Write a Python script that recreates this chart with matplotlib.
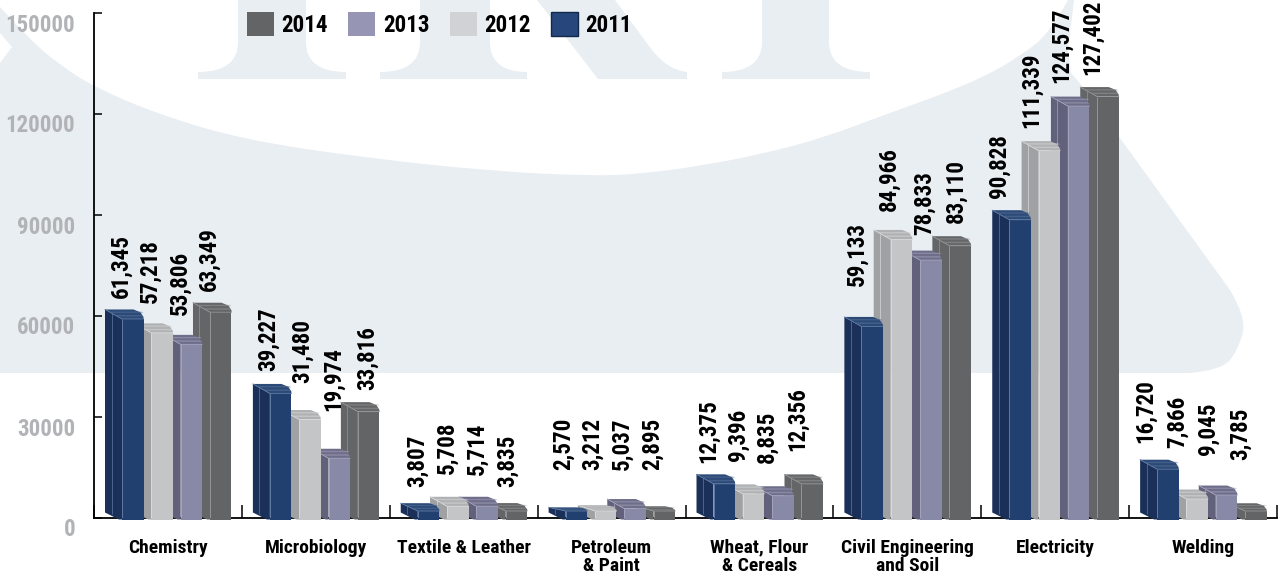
import matplotlib
matplotlib.use("Agg")
import matplotlib.pyplot as plt
from matplotlib.patches import Polygon, PathPatch, Patch
from matplotlib.path import Path
from matplotlib.transforms import ScaledTranslation

categories = ["Chemistry", "Microbiology", "Textile & Leather", "Petroleum\n& Paint",
              "Wheat, Flour\n& Cereals", "Civil Engineering\nand Soil", "Electricity", "Welding"]
years = ["2011", "2012", "2013", "2014"]
v2011 = [61345, 39227, 3807, 2570, 12375, 59133, 90828, 16720]
v2012 = [57218, 31480, 5708, 3212, 9396, 84966, 111339, 7866]
v2013 = [53806, 19974, 5714, 5037, 8835, 78833, 124577, 9045]
v2014 = [63349, 33816, 3835, 2895, 12356, 83110, 127402, 3785]
series = [v2011, v2012, v2013, v2014]
y_ticks = [0, 30000, 60000, 90000, 120000, 150000]

# label placement (pixels in the figure)
label_x = [[121, 150, 180, 209], [268, 302, 333, 367], [417, 447, 477, 507], [563, 592, 622, 652],
           [708, 738, 767, 797], [857, 889, 924, 956], [999, 1031, 1061, 1092], [1145, 1177, 1208, 1240]]
label_bottom = [[298, 303, 315, 291], [371, 383, 411, 390], [487, 474, 475, 487], [470, 470, 470, 470],
                [463, 461, 463, 451], [286, 211, 235, 223], [198, 128, 83, 75], [443, 448, 455, 460]]

# colours: front, side, top, stripe, edge highlight
styles = [("#22406F", "#1B3059", "#2C4A78", "#5A7499", "#5F7AA3"),
          ("#C4C5C7", "#A0A1A3", "#B0B1B3", "#D8D9DB", "#D8D9DB"),
          ("#8888A7", "#62617B", "#6E6E8A", "#A3A3BC", "#A3A3BC"),
          ("#636466", "#646567", "#656668", "#97989A", "#939496")]
legend_colors = ["#636466", "#9696B4", "#D1D2D4", "#27477C"]
WM = "#E9EEF3"
COND = "Roboto Condensed"

W, H = 1278, 576
fig = plt.figure(figsize=(W / 100, H / 100), dpi=100, facecolor="white")

def fp(x, y):
    return (x / W, 1 - y / H)

def wm_path(cmds):
    verts, codes = [], []
    for c, x, y in cmds:
        verts.append(fp(x, y)); codes.append(c)
    return Path(verts, codes)

M, L, Q, C = Path.MOVETO, Path.LINETO, Path.CURVE3, Path.CLOSEPOLY

def smooth(points):
    """Quadratic curve through the midpoints of a control polygon, ending on its last point."""
    out = []
    for k in range(1, len(points) - 1):
        mx = (points[k][0] + points[k + 1][0]) / 2
        my = (points[k][1] + points[k + 1][1]) / 2
        if k == len(points) - 2:
            mx, my = points[k + 1]
        out += [(Q, points[k][0], points[k][1]), (Q, mx, my)]
    return out

arc = [(0, 7), (30, 40), (60, 65), (94, 87), (160, 115), (245, 140), (367, 158), (490, 171), (590, 176),
       (640, 174), (700, 166), (762, 154), (823, 138), (884, 115), (940, 95), (986, 76), (1020, 56),
       (1050, 33), (1068, 0)]
corner = [(1230, 290), (1247, 318), (1238, 350), (1222, 370), (1190, 373)]
band = [(M, 0, 7)] + smooth(arc) + [(L, 1074, 0), (L, 1068, 50), (L, 1071, 73), (L, 1083, 87), (L, 1230, 290)]
band += smooth(corner) + [(L, 0, 373), (L, 0, 63), (L, 12, 47), (L, 0, 33), (C, 0, 7)]
fig.add_artist(PathPatch(wm_path(band), fc=WM, ec="none", zorder=-5, transform=fig.transFigure))
for a, b, s0, s1 in [(238, 306, 198, 346), (420, 490, 380, 527), (762, 829, 722, 870)]:
    p = wm_path([(M, a, 0), (L, a, 42), (Q, a, 72), (Q, s0, 72), (L, s0, 79), (L, s1, 79), (L, s1, 72),
                 (Q, b, 72), (Q, b, 42), (L, b, 0), (C, a, 0)])
    fig.add_artist(PathPatch(p, fc=WM, ec="none", zorder=-5, transform=fig.transFigure))
p = wm_path([(M, 537, 0), (L, 598, 79), (L, 687, 79), (L, 687, 72), (Q, 668, 70), (Q, 652, 50),
             (L, 615, 0), (C, 537, 0)])
fig.add_artist(PathPatch(p, fc=WM, ec="none", zorder=-5, transform=fig.transFigure))

ax = fig.add_axes([94 / W, (H - 518) / H, (1277 - 94) / W, 505 / H])
ax.patch.set_alpha(0)
ax.set_xlim(0, 8)
ax.set_ylim(0, 150000)
PX = 8 / 1183
PY = 150000 / 505
for s in ("top", "right"):
    ax.spines[s].set_visible(False)
for s in ("left", "bottom"):
    ax.spines[s].set_linewidth(1.3)
    ax.spines[s].set_color("black")

FRONT0, STEP, WIDTH, DX = 28, 29.33, 21.5, 17
BASE = -1.5 * PY
for j in reversed(range(4)):
    front, side, top, stripe, edge = styles[j]
    z = 10 - j
    for i, v in enumerate(series[j]):
        fl = i + (FRONT0 + j * STEP) * PX
        fr = fl + WIDTH * PX
        back = v + 2 * PY
        ftop = min(max(v - 7.5 * PY, 7 * PY), back - 3 * PY)
        d = back - ftop
        bl = fl - DX * PX
        ax.add_patch(Polygon([(bl, back), (fl, ftop), (fl, BASE), (fl - 3 * PX, BASE), (bl, 5.5 * PY)],
                             closed=True, fc=side, ec="none", zorder=z, clip_on=False))
        ax.add_patch(Polygon([(bl, back), (fr - 10 * PX, back), (fr - 3 * PX, back - d * 0.3),
                              (fr, back - d * 0.8), (fr, ftop), (fl, ftop)],
                             closed=True, fc=top, ec="none", zorder=z, clip_on=False))
        for a0, a1 in [(0.22, 0.36), (0.58, 0.74)]:
            ax.add_patch(Polygon([(bl + (17 * a0 + 1) * PX, back - d * a0), (fr - 2 * PX, back - d * a0),
                                  (fr, back - d * a1), (bl + (17 * a1 + 1) * PX, back - d * a1)],
                                 closed=True, fc=stripe, ec="none", alpha=0.5, zorder=z, clip_on=False))
        ax.bar(fl, ftop - BASE, bottom=BASE, width=fr - fl, align="edge", color=front, zorder=z, clip_on=False)
        ax.plot([bl + 6.5 * PX, bl + 6.5 * PX], [back - d * 0.38, 4 * PY], color=edge, lw=0.5, zorder=z, solid_capstyle="butt")
        ax.plot([fl, fl], [ftop, BASE], color=edge, lw=0.7, zorder=z, solid_capstyle="butt")
        ax.plot([bl, fl, fr], [back, ftop, ftop], color=edge, lw=0.6, zorder=z)

for j in range(4):
    for i, v in enumerate(series[j]):
        ax.text((label_x[i][j] - 94) * PX, (518 - label_bottom[i][j]) * PY, f"{v:,}", rotation=90, ha="center",
                va="bottom", family=COND, weight="bold", fontsize=16.6, color="black", zorder=20, clip_on=False)

ax.set_yticks(y_ticks)
ax.set_yticklabels([str(t) for t in y_ticks], family=COND, weight="bold", fontsize=16.5, color="#B1B3B6")
ax.tick_params(axis="y", direction="in", length=6, width=1.1, pad=13.5, color="black")
off = ScaledTranslation(0, -9.5 / 100, fig.dpi_scale_trans)
for lab in ax.get_yticklabels():
    lab.set_transform(lab.get_transform() + off)

ax.set_xticks(range(0, 9))
ax.set_xticklabels([])
ax.set_xticks([i + 0.5 for i in range(8)], minor=True)
ax.set_xticklabels(categories, minor=True, family=COND, weight="bold", fontsize=14, color="black", linespacing=1.03)
ax.tick_params(axis="x", which="major", direction="in", length=9.4, width=1.1, color="black")
ax.tick_params(axis="x", which="minor", length=0, pad=15)

handles = [Patch(fc=legend_colors[0], ec="none"), Patch(fc=legend_colors[1], ec="none"),
           Patch(fc=legend_colors[2], ec="none"), Patch(fc=legend_colors[3], ec="#12284A", lw=1)]
fig.legend(handles, years[::-1], ncol=4, loc="upper left", bbox_to_anchor=(247 / W, 1 - 12 / H), frameon=False,
           borderpad=0, borderaxespad=0, handlelength=1.17, handleheight=1.22, handletextpad=0.33, columnspacing=0.88,
           prop={"family": COND, "weight": "bold", "size": 16.6})

fig.savefig("out.png", dpi=100, facecolor="white")
